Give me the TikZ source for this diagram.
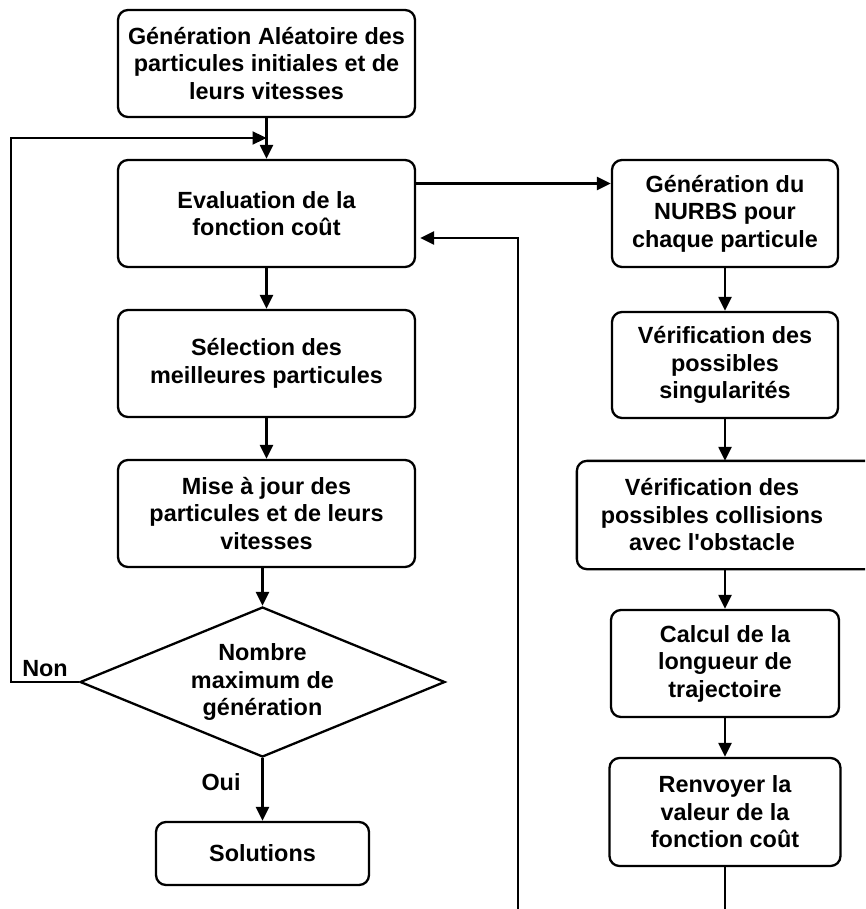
\documentclass[tikz,border=0pt]{standalone}
\usepackage{fontspec}
\setmainfont{Liberation Sans}
\usetikzlibrary{arrows.meta}
\usetikzlibrary{shapes.geometric}

\tikzset{
  bloc/.style={draw, line width=2.3pt, rounded corners=10pt, align=center, inner sep=2pt},
  losange/.style={draw, line width=2.3pt, diamond, aspect=2.43, align=center, inner sep=0pt},
  fleche/.style={line width=2.3pt, -{Triangle[length=14pt,width=13pt]}},
  trait/.style={line width=2.3pt},
}

\begin{document}
\begin{tikzpicture}[x=1pt, y=-1pt, font=\fontsize{23.4}{27.5}\selectfont\bfseries]
  \clip (0,0) rectangle (865,909);

  \node[bloc, minimum width=297pt, minimum height=107pt] (init) at (266.5,63.5) {Génération Aléatoire des\\particules initiales et de\\leurs vitesses};
  \node[bloc, minimum width=297pt, minimum height=107pt] (eval) at (266.5,213.5) {Evaluation de la\\fonction coût};
  \node[bloc, minimum width=297pt, minimum height=107pt] (select) at (266.5,363.5) {Sélection des\\meilleures particules};
  \node[bloc, minimum width=297pt, minimum height=107pt] (maj) at (266.5,513.5) {Mise à jour des\\particules et de leurs\\vitesses};
  \node[losange, minimum width=365pt, minimum height=150pt] (test) at (262.5,682) {Nombre\\maximum de\\génération};
  \node[bloc, minimum width=213pt, minimum height=63pt] (sol) at (262.5,853.5) {Solutions};

  \node[bloc, minimum width=226pt, minimum height=107pt] (nurbs) at (725,213.5) {Génération du\\NURBS pour\\chaque particule};
  \node[bloc, minimum width=226pt, minimum height=106pt] (singul) at (725,365) {Vérification des\\possibles\\singularités};
  \node[bloc, draw=none, minimum width=268pt, minimum height=106pt] (collis) at (712,515) {Vérification des\\possibles collisions\\avec l\textquotesingle obstacle};
  \draw[trait, rounded corners=10pt] (collis.north west) rectangle ([xshift=40pt]collis.south east);
  \node[bloc, minimum width=228pt, minimum height=107pt] (calcul) at (725,663.5) {Calcul de la\\longueur de\\trajectoire};
  \node[bloc, minimum width=231pt, minimum height=108pt] (renvoi) at (725,812) {Renvoyer la\\valeur de la\\fonction coût};

  \node (non) at (45,669) {Non};
  \node (oui) at (221,782) {Oui};
  \coordinate (retour) at (518,920);

  \draw[fleche] (init) -- (eval);
  \draw[fleche] (eval) -- (select);
  \draw[fleche] (select) -- (maj);
  \draw[fleche] (maj.south -| test.north) -- (test.north);
  \draw[fleche] (test) -- (sol);
  \draw[fleche] (test.west) -- ++(-68,0) |- (init.south |- 0,138);

  \draw[fleche] ([yshift=30pt]eval.east) coordinate (depart) -- (depart -| nurbs.west);
  \draw[fleche] (nurbs) -- (singul);
  \draw[fleche] (singul.south) -- (singul.south |- collis.north);
  \draw[fleche] (collis.south -| calcul.north) -- (calcul.north);
  \draw[fleche] (calcul) -- (renvoi);
  \draw[trait] (renvoi.south) -- (renvoi.south |- retour);
  \draw[fleche] (retour) |- ([shift={(4pt,-24.5pt)}]eval.east);
\end{tikzpicture}
\end{document}
